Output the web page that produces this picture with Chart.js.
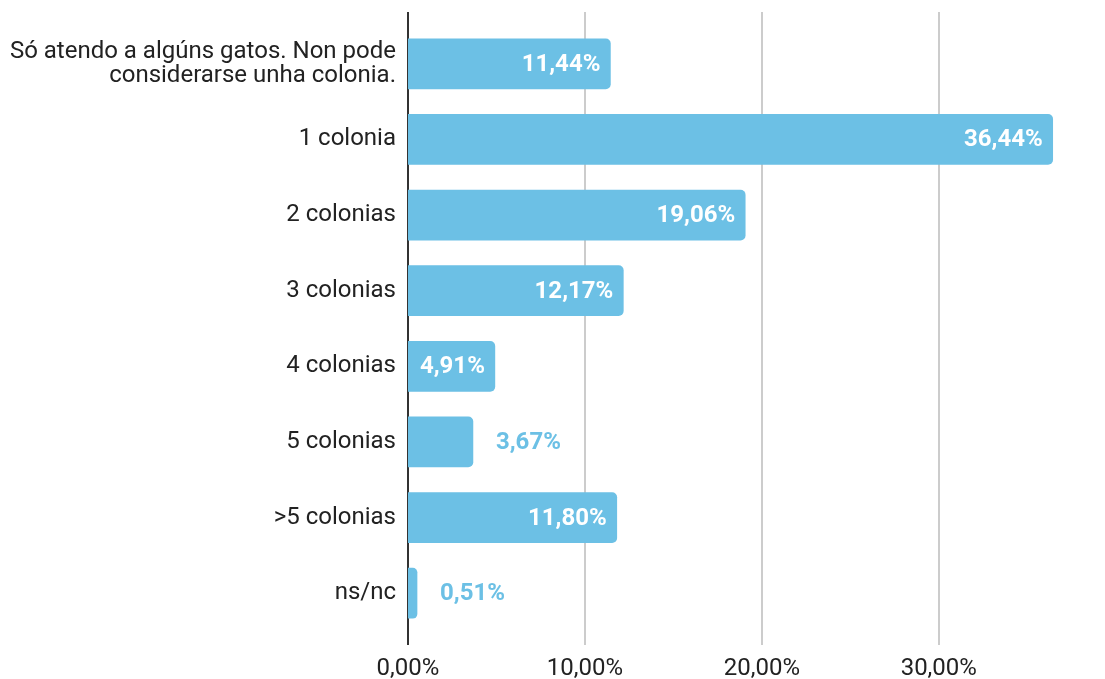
<!DOCTYPE html>
<html>
<head>
<meta charset="utf-8">
<script src="https://cdn.jsdelivr.net/npm/chart.js@4"></script>
<style>
  html, body { margin: 0; padding: 0; background: #fff; }
  #wrap { width: 1105px; height: 679px; }
</style>
</head>
<body>
<div id="wrap"><canvas id="chartBar" width="1105" height="679"></canvas></div>
<script>
// Categorías y valores (%)
const categorias = [
    ['Só atendo a algúns gatos. Non pode', 'considerarse unha colonia.'],
    '1 colonia',
    '2 colonias',
    '3 colonias',
    '4 colonias',
    '5 colonias',
    '>5 colonias',
    'ns/nc'
];
const valores = [11.44, 36.44, 19.06, 12.17, 4.91, 3.67, 11.80, 0.51];
const ticksX = [0, 10, 20, 30];
const etiquetasX = ['0,00%', '10,00%', '20,00%', '30,00%'];

const azul = '#6cc0e5';
const fuente = 'Roboto, "Noto Sans", sans-serif';

const formatear = v => v.toFixed(2).replace('.', ',') + '%';

// Rejilla vertical que sobresale del área de categorías
const rejilla = {
    id: 'rejilla',
    beforeDatasetsDraw(chart) {
        const { ctx, chartArea, scales } = chart;
        const top = 12, bottom = chartArea.bottom + 14;
        ctx.save();
        ticksX.forEach(t => {
            const x = Math.round(scales.x.getPixelForValue(t));
            ctx.beginPath();
            ctx.strokeStyle = t === 0 ? '#333' : '#cccccc';
            ctx.lineWidth = 2;
            ctx.moveTo(x, top);
            ctx.lineTo(x, bottom);
            ctx.stroke();
        });
        ctx.restore();
    }
};

// Etiquetas de valor en las barras
const etiquetas = {
    id: 'etiquetas',
    afterDatasetsDraw(chart) {
        const { ctx } = chart;
        const meta = chart.getDatasetMeta(0);
        ctx.save();
        ctx.font = 'bold 24px ' + fuente;
        ctx.textBaseline = 'middle';
        meta.data.forEach((bar, i) => {
            const texto = formatear(valores[i]);
            const ancho = ctx.measureText(texto).width;
            const largo = bar.x - bar.base;
            if (largo > ancho + 12) {
                ctx.fillStyle = '#ffffff';
                ctx.textAlign = 'right';
                ctx.fillText(texto, bar.x - 10, bar.y + 1);
            } else {
                ctx.fillStyle = azul;
                ctx.textAlign = 'left';
                ctx.fillText(texto, bar.x + 23, bar.y + 1);
            }
        });
        ctx.restore();
    }
};

const ctx = document.getElementById('chartBar').getContext('2d');
new Chart(ctx, {
    type: 'bar',
    data: {
        labels: categorias,
        datasets: [{
            data: valores,
            backgroundColor: azul,
            borderRadius: 5,
            borderSkipped: 'start',
            barThickness: 50
        }]
    },
    options: {
        indexAxis: 'y',
        responsive: false,
        animation: false,
        layout: { padding: { top: 26, right: 7, bottom: 0, left: 0 } },
        plugins: {
            legend: { display: false },
            tooltip: { enabled: false }
        },
        scales: {
            x: {
                min: 0,
                max: 39,
                grid: { display: false },
                border: { display: false },
                afterBuildTicks(scale) {
                    scale.ticks = ticksX.map(v => ({ value: v }));
                },
                afterFit(scale) { scale.height = 48; },
                ticks: {
                    color: '#222',
                    font: { family: fuente, size: 24 },
                    padding: 16,
                    maxRotation: 0,
                    callback: (v, i) => etiquetasX[i]
                }
            },
            y: {
                grid: { display: false },
                border: { display: false },
                afterFit(scale) { scale.width = 408; },
                ticks: {
                    color: '#222',
                    font: { family: fuente, size: 24, lineHeight: 0.98 },
                    padding: 4
                }
            }
        }
    },
    plugins: [rejilla, etiquetas]
});
</script>
</body>
</html>
